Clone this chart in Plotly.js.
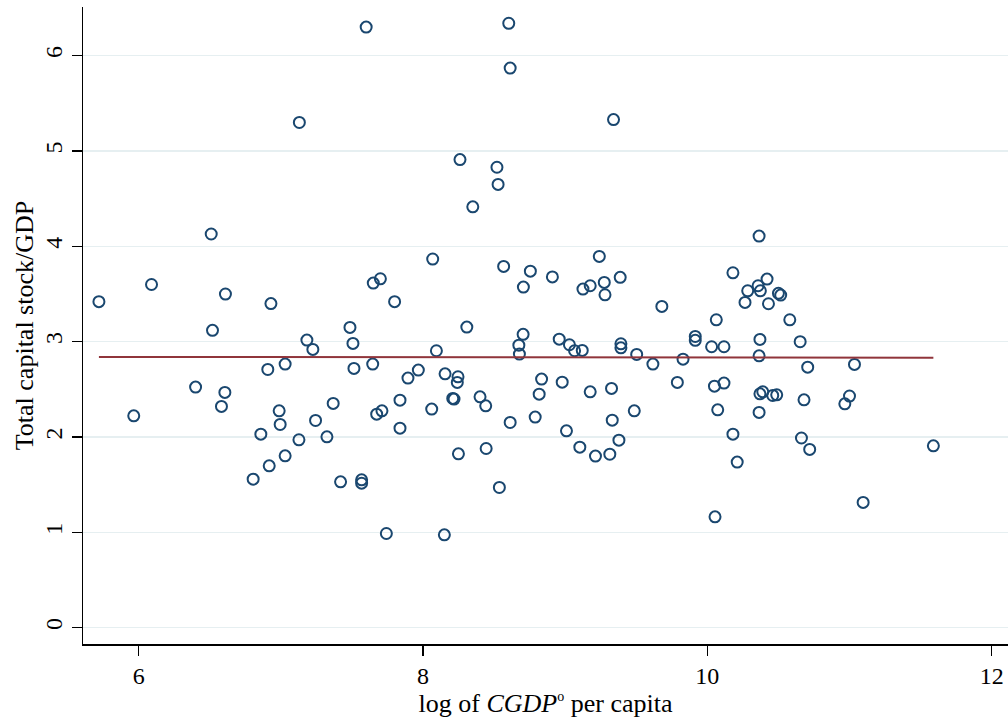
<!DOCTYPE html>
<html>
<head>
<meta charset="utf-8">
<script src="https://cdn.plot.ly/plotly-3.0.1.min.js"></script>
<style>html,body{margin:0;padding:0;background:#fff;}#chart{width:1008px;height:719px;}</style>
</head>
<body>
<div id="chart"></div>
<script>
// log of CGDPo per capita
const logGdp = [
  7.60, 7.13, 6.51, 5.72, 6.09, 6.61, 6.93, 7.65, 7.70, 7.80,
  8.603, 8.613, 9.34, 8.26, 8.52, 8.528, 8.35, 8.068, 8.567, 8.755,
  8.706, 8.91, 9.24, 9.125, 9.176, 9.275, 9.28, 9.387, 9.68, 10.063,
  10.364, 10.18, 10.42, 10.284, 10.357, 10.373, 10.50, 10.516, 10.265, 10.43,
  10.58, 10.03, 10.117, 10.37, 10.653, 10.364, 10.706, 11.035, 10.05, 10.117,
  10.37, 10.39, 10.46, 10.488, 10.68, 11.0, 10.967, 10.073, 10.364, 10.18,
  10.662, 10.72, 11.59, 10.21, 11.096, 10.054,
  6.519, 7.183, 7.486, 7.507, 7.225, 6.908, 7.03, 7.514, 7.646, 6.40,
  6.606, 6.582, 5.965, 6.988, 6.995, 7.244, 7.368, 7.674, 7.711, 7.838,
  7.838, 6.859, 7.127, 7.324, 7.03, 6.918, 6.805, 7.42, 7.568, 7.568,
  7.742,
  8.308, 8.704, 8.674, 8.678, 8.958, 9.03, 9.066, 9.12, 9.392, 9.392,
  9.503, 9.617, 9.829, 9.915, 9.915, 8.094, 7.894, 7.967, 8.061, 8.155,
  8.246, 8.241, 8.209, 8.218, 8.401, 8.441, 8.613, 8.249, 8.444, 8.537,
  8.15, 8.834, 8.817, 8.789, 8.979, 9.009, 9.103, 9.213, 9.314, 9.378,
  9.176, 9.326, 9.331, 9.486, 9.789
];
// Total capital stock / GDP
const capitalRatio = [
  6.30, 5.30, 4.13, 3.42, 3.60, 3.50, 3.40, 3.615, 3.66, 3.42,
  6.34, 5.87, 5.33, 4.91, 4.83, 4.65, 4.415, 3.867, 3.79, 3.74,
  3.573, 3.68, 3.895, 3.552, 3.587, 3.622, 3.492, 3.675, 3.37, 3.23,
  4.108, 3.723, 3.657, 3.534, 3.587, 3.534, 3.507, 3.489, 3.412, 3.398,
  3.23, 2.947, 2.947, 3.024, 3.0, 2.852, 2.733, 2.762, 2.534, 2.566,
  2.453, 2.474, 2.436, 2.443, 2.39, 2.43, 2.348, 2.285, 2.258, 2.03,
  1.99, 1.87, 1.908, 1.737, 1.314, 1.163,
  3.119, 3.017, 3.15, 2.982, 2.919, 2.709, 2.765, 2.72, 2.765, 2.524,
  2.468, 2.321, 2.222, 2.275, 2.132, 2.174, 2.353, 2.24, 2.275, 2.387,
  2.093, 2.03, 1.971, 2.002, 1.803, 1.698, 1.558, 1.53, 1.551, 1.516,
  0.988,
  3.153, 3.077, 2.964, 2.87, 3.027, 2.968, 2.905, 2.909, 2.978, 2.936,
  2.867, 2.765, 2.817, 3.055, 3.014, 2.905, 2.618, 2.702, 2.293, 2.663,
  2.632, 2.573, 2.405, 2.398, 2.422, 2.327, 2.153, 1.824, 1.88, 1.471,
  0.974, 2.608, 2.45, 2.209, 2.576, 2.065, 1.894, 1.80, 1.82, 1.967,
  2.474, 2.51, 2.177, 2.275, 2.573
];
// Fitted line
const fitX = [5.72, 11.59];
const fitY = [2.840, 2.833];

const xTicks = [6, 8, 10, 12];
const yTicks = [0, 1, 2, 3, 4, 5, 6];

const serif = 'Liberation Serif';

const traces = [
  {
    type: 'scatter', mode: 'markers', x: logGdp, y: capitalRatio,
    marker: {symbol: 'circle-open', size: 11, color: '#1a476f', line: {width: 2, color: '#1a476f'}},
    hoverinfo: 'x+y'
  },
  {
    type: 'scatter', mode: 'lines', x: fitX, y: fitY,
    line: {color: '#90353b', width: 2}
  }
];

const layout = {
  width: 1008, height: 719,
  margin: {l: 83, r: 0, t: 7, b: 75},
  paper_bgcolor: '#ffffff', plot_bgcolor: '#ffffff',
  showlegend: false,
  font: {family: serif, size: 24, color: '#000'},
  xaxis: {
    range: [5.608, 12.115], tickvals: xTicks, ticktext: xTicks.map(String),
    ticks: 'outside', ticklen: 10, tickwidth: 1.5, tickcolor: '#000',
    showline: true, linecolor: '#000', linewidth: 1.5,
    showgrid: false, zeroline: false, automargin: false,
    tickfont: {family: serif, size: 24, color: '#000'},
    title: {text: 'log of <i>CGDP</i><sup><span style="font-size:14px">o</span></sup> per capita', font: {family: serif, size: 26, color: '#000'}, standoff: 0}
  },
  yaxis: {
    range: [-0.171, 6.511], tickvals: yTicks, ticktext: yTicks.map(String),
    tickangle: -90,
    ticks: 'outside', ticklen: 10, tickwidth: 1.5, tickcolor: '#000',
    showline: true, linecolor: '#000', linewidth: 1.5,
    showgrid: true, gridcolor: '#e6eff1', gridwidth: 1.5,
    zeroline: false, automargin: false,
    tickfont: {family: serif, size: 24, color: '#000'},
    title: {text: 'Total capital stock/GDP', font: {family: serif, size: 26, color: '#000'}, standoff: 0}
  }
};

Plotly.newPlot('chart', traces, layout, {displayModeBar: false, staticPlot: true});
</script>
</body>
</html>
